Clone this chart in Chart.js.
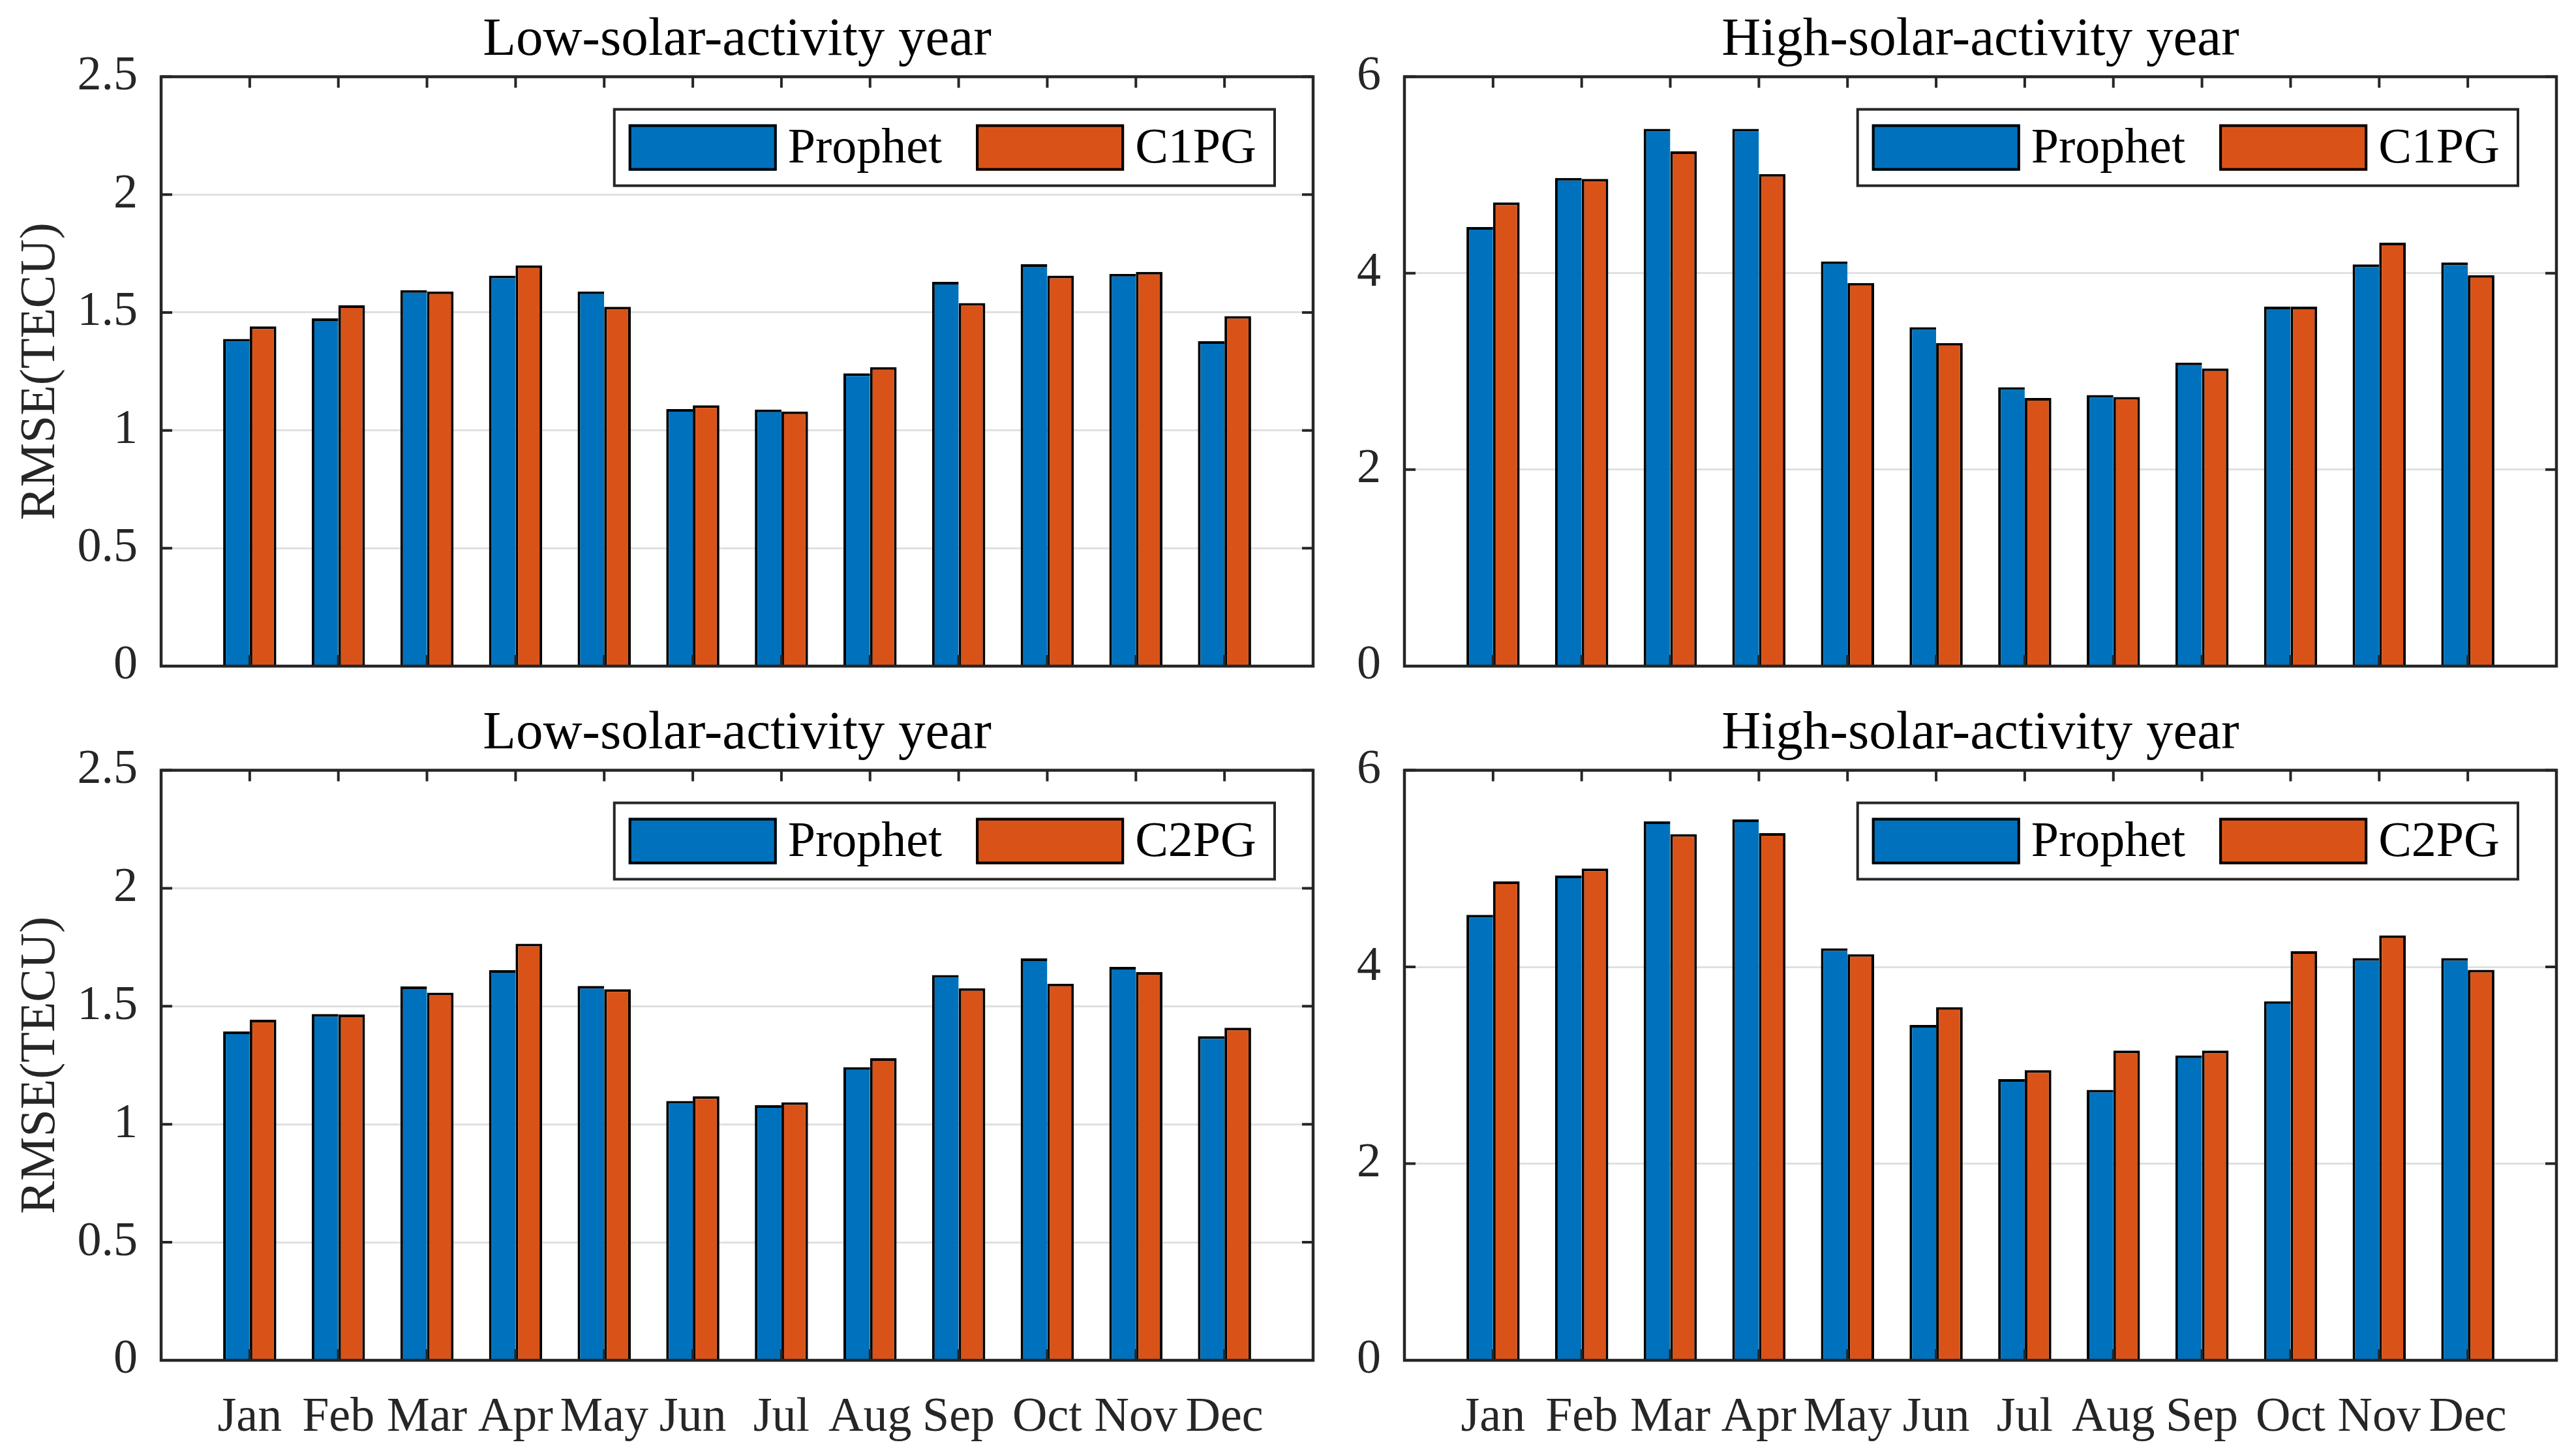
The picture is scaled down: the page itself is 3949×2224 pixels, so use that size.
<!DOCTYPE html>
<html>
<head>
<meta charset="utf-8">
<title>RMSE Prophet vs C1PG / C2PG</title>
<script src="https://cdn.jsdelivr.net/npm/chart.js@4.4.1/dist/chart.umd.min.js"></script>
<style>
    html, body { margin: 0; padding: 0; background: #fff; overflow: hidden; }
    #wrap { position: relative; width: 3949px; height: 2224px; background: #fff; }
    #wrap canvas { position: absolute; }
</style>
</head>
<body>
<div id="wrap">
    <canvas id="lowTop" width="2045" height="1062" style="left:0;top:0"></canvas>
    <canvas id="highTop" width="1904" height="1062" style="left:2045px;top:0"></canvas>
    <canvas id="lowBottom" width="2045" height="1162" style="left:0;top:1062px"></canvas>
    <canvas id="highBottom" width="1904" height="1162" style="left:2045px;top:1062px"></canvas>
</div>
<script>
// chart data
const months = ['Jan', 'Feb', 'Mar', 'Apr', 'May', 'Jun', 'Jul', 'Aug', 'Sep', 'Oct', 'Nov', 'Dec'];

const lowProphetC1 = [1.388, 1.475, 1.595, 1.656, 1.589, 1.090, 1.088, 1.242, 1.630, 1.705, 1.664, 1.378];
const lowC1PG      = [1.441, 1.530, 1.589, 1.700, 1.524, 1.106, 1.080, 1.268, 1.540, 1.656, 1.672, 1.485];

const highProphetC1 = [4.47, 4.97, 5.47, 5.47, 4.12, 3.45, 2.84, 2.76, 3.09, 3.66, 4.09, 4.11];
const highC1PG      = [4.72, 4.96, 5.24, 5.01, 3.90, 3.29, 2.73, 2.74, 3.03, 3.66, 4.31, 3.98];

const lowProphetC2 = [1.393, 1.467, 1.584, 1.653, 1.586, 1.099, 1.081, 1.242, 1.632, 1.703, 1.667, 1.373];
const lowC2PG      = [1.443, 1.465, 1.558, 1.765, 1.572, 1.119, 1.093, 1.280, 1.576, 1.596, 1.645, 1.409];

const highProphetC2 = [4.53, 4.93, 5.48, 5.50, 4.19, 3.41, 2.86, 2.75, 3.10, 3.65, 4.09, 4.09];
const highC2PG      = [4.87, 5.00, 5.35, 5.36, 4.13, 3.59, 2.95, 3.15, 3.15, 4.16, 4.32, 3.97];

const lowTicks = [0, 0.5, 1, 1.5, 2, 2.5];
const highTicks = [0, 2, 4, 6];

const BLUE = '#0072BD';
const ORANGE = '#D95319';
const AXIS = '#262626';

Chart.defaults.font.family = '"Liberation Serif", "Times New Roman", serif';
Chart.defaults.color = AXIS;

// box, inward ticks and the in-axes legend, matlab style
const matlabFrame = {
    id: 'matlabFrame',
    afterDraw(chart) {
        const { ctx, chartArea: a, scales: { x, y } } = chart;
        ctx.save();
        ctx.strokeStyle = AXIS;
        ctx.lineWidth = 4;
        ctx.beginPath();
        y.ticks.forEach(t => {
            const py = y.getPixelForValue(t.value);
            ctx.moveTo(a.left, py); ctx.lineTo(a.left + 17, py);
            ctx.moveTo(a.right, py); ctx.lineTo(a.right - 17, py);
        });
        x.ticks.forEach(t => {
            const px = x.getPixelForValue(t.value);
            ctx.moveTo(px, a.top); ctx.lineTo(px, a.top + 17);
            ctx.moveTo(px, a.bottom); ctx.lineTo(px, a.bottom - 17);
        });
        ctx.stroke();
        ctx.lineWidth = 4.5;
        ctx.strokeRect(a.left, a.top, a.right - a.left, a.bottom - a.top);

        // legend
        const sets = chart.data.datasets;
        ctx.font = '76px "Liberation Serif", "Times New Roman", serif';
        const swW = 227, swH = 71, pad = 22, gap = 17, between = 52, padEnd = 28;
        let boxW = pad + padEnd - between;
        sets.forEach(ds => { boxW += swW + gap + ctx.measureText(ds.label).width + between; });
        const boxH = 117;
        const bx = a.right - 59 - boxW;
        const by = a.top + 50;
        ctx.fillStyle = '#fff';
        ctx.fillRect(bx, by, boxW, boxH);
        ctx.lineWidth = 4;
        ctx.strokeStyle = AXIS;
        ctx.strokeRect(bx, by, boxW, boxH);
        let cx = bx + pad;
        const sy = by + (boxH - swH) / 2;
        sets.forEach(ds => {
            ctx.fillStyle = ds.backgroundColor;
            ctx.fillRect(cx, sy, swW, swH);
            ctx.strokeStyle = '#000';
            ctx.lineWidth = 4;
            ctx.strokeRect(cx + 2, sy + 2, swW - 4, swH - 4);
            ctx.fillStyle = '#000';
            ctx.textBaseline = 'middle';
            ctx.textAlign = 'left';
            ctx.fillText(ds.label, cx + swW + gap, sy + swH / 2 + 3);
            cx += swW + gap + ctx.measureText(ds.label).width + between;
        });
        ctx.restore();
    }
};

function makePanel(id, cfg) {
    const canvas = document.getElementById(id);
    new Chart(canvas, {
        type: 'bar',
        data: {
            datasets: [
                {
                    label: 'Prophet',
                    data: cfg.prophet.map((v, i) => ({ x: i + 1, y: v })),
                    backgroundColor: BLUE,
                    borderColor: '#000',
                    borderWidth: { top: 4, left: 4, right: 0, bottom: 0 },
                    borderSkipped: false
                },
                {
                    label: cfg.otherLabel,
                    data: cfg.other.map((v, i) => ({ x: i + 1, y: v })),
                    backgroundColor: ORANGE,
                    borderColor: '#000',
                    borderWidth: { top: 4, left: 4, right: 4, bottom: 0 },
                    borderSkipped: false
                }
            ]
        },
        options: {
            responsive: false,
            devicePixelRatio: 1,
            animation: false,
            categoryPercentage: 0.6,
            barPercentage: 1.0,
            layout: { padding: { left: 0, right: cfg.padRight, top: 0, bottom: 0 } },
            plugins: {
                legend: { display: false },
                tooltip: { enabled: false },
                title: {
                    display: true,
                    text: cfg.title,
                    fullSize: false,
                    color: '#000',
                    font: { size: 83, weight: 'normal' },
                    padding: { top: cfg.titleTop, bottom: 6 }
                }
            },
            scales: {
                x: {
                    type: 'linear',
                    min: 0,
                    max: 13,
                    offset: false,
                    grid: { display: false, offset: false },
                    border: { display: false },
                    afterBuildTicks: scale => {
                        scale.ticks = months.map((m, i) => ({ value: i + 1 }));
                    },
                    afterFit: scale => {
                        scale.height = cfg.xHeight;
                        scale.paddingLeft = 0;
                        scale.paddingRight = 0;
                    },
                    ticks: {
                        display: cfg.showMonths,
                        autoSkip: false,
                        maxRotation: 0,
                        minRotation: 0,
                        padding: 36,
                        color: AXIS,
                        font: { size: 74 },
                        callback: value => months[value - 1] || ''
                    }
                },
                y: {
                    min: cfg.ticks[0],
                    max: cfg.ticks[cfg.ticks.length - 1],
                    afterBuildTicks: scale => {
                        scale.ticks = cfg.ticks.map(v => ({ value: v }));
                    },
                    afterFit: scale => {
                        scale.width = cfg.yWidth;
                        scale.paddingTop = 0;
                        scale.paddingBottom = 0;
                    },
                    grid: { color: '#e0e0e0', lineWidth: 3, drawTicks: false },
                    border: { display: false },
                    ticks: {
                        padding: 36,
                        color: AXIS,
                        font: { size: 74 },
                        callback: value => String(Math.round(value * 10) / 10)
                    },
                    title: {
                        display: cfg.showYLabel,
                        text: 'RMSE(TECU)',
                        color: AXIS,
                        font: { size: 76 },
                        padding: { top: 17, bottom: 0 }
                    }
                }
            }
        },
        plugins: [matlabFrame]
    });
}

makePanel('lowTop', {
    title: 'Low-solar-activity year', prophet: lowProphetC1, other: lowC1PG, otherLabel: 'C1PG',
    ticks: lowTicks, yWidth: 247, padRight: 32, xHeight: 41, titleTop: 12,
    showMonths: false, showYLabel: true
});
makePanel('highTop', {
    title: 'High-solar-activity year', prophet: highProphetC1, other: highC1PG, otherLabel: 'C1PG',
    ticks: highTicks, yWidth: 108, padRight: 30, xHeight: 41, titleTop: 12,
    showMonths: false, showYLabel: false
});
makePanel('lowBottom', {
    title: 'Low-solar-activity year', prophet: lowProphetC2, other: lowC2PG, otherLabel: 'C2PG',
    ticks: lowTicks, yWidth: 247, padRight: 32, xHeight: 139, titleTop: 13,
    showMonths: true, showYLabel: true
});
makePanel('highBottom', {
    title: 'High-solar-activity year', prophet: highProphetC2, other: highC2PG, otherLabel: 'C2PG',
    ticks: highTicks, yWidth: 108, padRight: 30, xHeight: 139, titleTop: 13,
    showMonths: true, showYLabel: false
});
</script>
</body>
</html>
